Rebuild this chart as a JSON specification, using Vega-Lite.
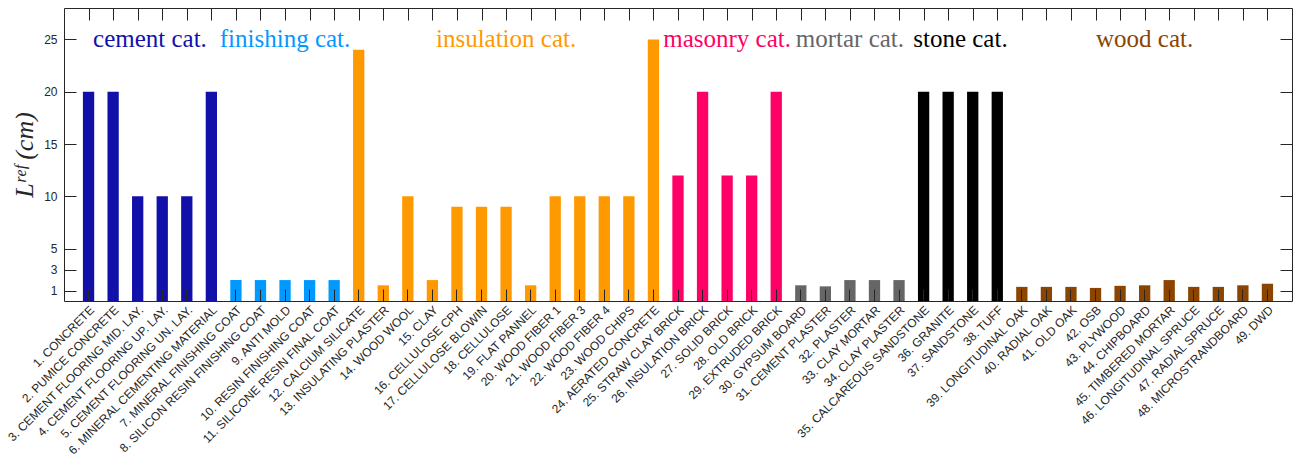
{
  "$schema": "https://vega.github.io/schema/vega-lite/v6.json",
  "width": 1228,
  "height": 293,
  "autosize": {"type": "none"},
  "padding": {"left": 64, "top": 8, "right": 4, "bottom": 161},
  "background": "white",
  "config": {
    "view": {"stroke": "#262626", "strokeWidth": 1},
    "axis": {
      "grid": false,
      "labelFont": "Liberation Sans",
      "labelFontSize": 12,
      "labelColor": "#262626",
      "domain": false
    }
  },
  "data": {
    "values": [
      {"id": 1, "material": "1. CONCRETE", "category": "cement", "L": 20},
      {"id": 2, "material": "2. PUMICE CONCRETE", "category": "cement", "L": 20},
      {"id": 3, "material": "3. CEMENT FLOORING MID. LAY.", "category": "cement", "L": 10},
      {"id": 4, "material": "4. CEMENT FLOORING UP. LAY.", "category": "cement", "L": 10},
      {"id": 5, "material": "5. CEMENT FLOORING UN. LAY.", "category": "cement", "L": 10},
      {"id": 6, "material": "6. MINERAL CEMENTING MATERIAL", "category": "cement", "L": 20},
      {"id": 7, "material": "7. MINERAL FINISHING COAT", "category": "finishing", "L": 2},
      {"id": 8, "material": "8. SILICON RESIN FINISHING COAT", "category": "finishing", "L": 2},
      {"id": 9, "material": "9. ANTI MOLD", "category": "finishing", "L": 2},
      {"id": 10, "material": "10. RESIN FINISHING COAT", "category": "finishing", "L": 2},
      {"id": 11, "material": "11. SILICONE RESIN FINAL COAT", "category": "finishing", "L": 2},
      {"id": 12, "material": "12. CALCIUM SILICATE", "category": "insulation", "L": 24},
      {"id": 13, "material": "13. INSULATING PLASTER", "category": "insulation", "L": 1.5},
      {"id": 14, "material": "14. WOOD WOOL", "category": "insulation", "L": 10},
      {"id": 15, "material": "15. CLAY", "category": "insulation", "L": 2},
      {"id": 16, "material": "16. CELLULOSE CPH", "category": "insulation", "L": 9},
      {"id": 17, "material": "17. CELLULOSE BLOWIN", "category": "insulation", "L": 9},
      {"id": 18, "material": "18. CELLULOSE", "category": "insulation", "L": 9},
      {"id": 19, "material": "19. FLAT PANNEL", "category": "insulation", "L": 1.5},
      {"id": 20, "material": "20. WOOD FIBER 1", "category": "insulation", "L": 10},
      {"id": 21, "material": "21. WOOD FIBER 3", "category": "insulation", "L": 10},
      {"id": 22, "material": "22. WOOD FIBER 4", "category": "insulation", "L": 10},
      {"id": 23, "material": "23. WOOD CHIPS", "category": "insulation", "L": 10},
      {"id": 24, "material": "24. AERATED CONCRETE", "category": "insulation", "L": 25},
      {"id": 25, "material": "25. STRAW CLAY BRICK", "category": "masonry", "L": 12},
      {"id": 26, "material": "26. INSULATION BRICK", "category": "masonry", "L": 20},
      {"id": 27, "material": "27. SOLID BRICK", "category": "masonry", "L": 12},
      {"id": 28, "material": "28. OLD BRICK", "category": "masonry", "L": 12},
      {"id": 29, "material": "29. EXTRUDED BRICK", "category": "masonry", "L": 20},
      {"id": 30, "material": "30. GYPSUM BOARD", "category": "mortar", "L": 1.5},
      {"id": 31, "material": "31. CEMENT PLASTER", "category": "mortar", "L": 1.4},
      {"id": 32, "material": "32. PLASTER", "category": "mortar", "L": 2},
      {"id": 33, "material": "33. CLAY MORTAR", "category": "mortar", "L": 2},
      {"id": 34, "material": "34. CLAY PLASTER", "category": "mortar", "L": 2},
      {"id": 35, "material": "35. CALCAREOUS SANDSTONE", "category": "stone", "L": 20},
      {"id": 36, "material": "36. GRANITE", "category": "stone", "L": 20},
      {"id": 37, "material": "37. SANDSTONE", "category": "stone", "L": 20},
      {"id": 38, "material": "38. TUFF", "category": "stone", "L": 20},
      {"id": 39, "material": "39. LONGITUDINAL OAK", "category": "wood", "L": 1.35},
      {"id": 40, "material": "40. RADIAL OAK", "category": "wood", "L": 1.35},
      {"id": 41, "material": "41. OLD OAK", "category": "wood", "L": 1.35},
      {"id": 42, "material": "42. OSB", "category": "wood", "L": 1.25},
      {"id": 43, "material": "43. PLYWOOD", "category": "wood", "L": 1.45},
      {"id": 44, "material": "44. CHIPBOARD", "category": "wood", "L": 1.5},
      {"id": 45, "material": "45. TIMBERED MORTAR", "category": "wood", "L": 2},
      {"id": 46, "material": "46. LONGITUDINAL SPRUCE", "category": "wood", "L": 1.35},
      {"id": 47, "material": "47. RADIAL SPRUCE", "category": "wood", "L": 1.35},
      {"id": 48, "material": "48. MICROSTRANDBOARD", "category": "wood", "L": 1.5},
      {"id": 49, "material": "49. DWD", "category": "wood", "L": 1.65}
    ]
  },
  "layer": [
    {
      "mark": {"type": "bar"},
      "encoding": {
        "x": {
          "field": "material",
          "type": "nominal",
          "sort": null,
          "scale": {"paddingInner": 0.54, "paddingOuter": 0.77},
          "axis": {
            "orient": "bottom",
            "title": null,
            "labelAngle": -45,
            "labelPadding": 3,
            "labelOverlap": false,
            "labelLimit": 400,
            "ticks": true,
            "tickSize": 12,
            "tickColor": "#262626",
            "tickWidth": 1,
            "tickOpacity": 1,
            "offset": -12,
            "zindex": 2
          }
        },
        "y": {
          "field": "L",
          "type": "quantitative",
          "scale": {"domain": [0, 28], "nice": false, "zero": true},
          "axis": {
            "orient": "left",
            "values": [1, 3, 5, 10, 15, 20, 25],
            "title": "Lʳᵉᶠ (cm)",
            "titleFont": "Liberation Serif",
            "titleFontSize": 26,
            "titleFontWeight": "normal",
            "titleFontStyle": "italic",
            "titleColor": "#262626",
            "titlePadding": 6,
            "labelPadding": 7,
            "ticks": true,
            "tickSize": 12,
            "tickColor": "#262626",
            "tickWidth": 1,
            "tickOpacity": 1,
            "offset": -12,
            "zindex": 2
          }
        },
        "color": {
          "field": "category",
          "type": "nominal",
          "scale": {
            "domain": ["cement", "finishing", "insulation", "masonry", "mortar", "stone", "wood"],
            "range": ["#1111AA", "#0099FF", "#FF9900", "#FF0066", "#666666", "#000000", "#8B4500"]
          },
          "legend": null
        }
      }
    },
    {
      "transform": [
        {"aggregate": [{"op": "mean", "field": "id", "as": "center"}], "groupby": ["category"]},
        {"calculate": "datum.category + ' cat.'", "as": "label"}
      ],
      "mark": {"type": "text", "font": "Liberation Serif", "fontSize": 25, "align": "center", "baseline": "middle"},
      "encoding": {
        "x": {
          "field": "center",
          "type": "quantitative",
          "scale": {"domain": [0, 50], "nice": false, "zero": false},
          "axis": {
            "orient": "top",
            "title": null,
            "labels": false,
            "values": [1,2,3,4,5,6,7,8,9,10,11,12,13,14,15,16,17,18,19,20,21,22,23,24,25,26,27,28,29,30,31,32,33,34,35,36,37,38,39,40,41,42,43,44,45,46,47,48,49],
            "ticks": true,
            "tickSize": 12,
            "tickColor": "#262626",
            "tickWidth": 1,
            "tickOpacity": 1,
            "offset": -12,
            "zindex": 2
          }
        },
        "y": {
          "datum": 25,
          "type": "quantitative",
          "scale": {"domain": [0, 28], "nice": false, "zero": true},
          "axis": {
            "orient": "right",
            "title": null,
            "labels": false,
            "values": [1, 3, 5, 10, 15, 20, 25],
            "ticks": true,
            "tickSize": 12,
            "tickColor": "#262626",
            "tickWidth": 1,
            "tickOpacity": 1,
            "offset": -12,
            "zindex": 2
          }
        },
        "text": {"field": "label"},
        "color": {"field": "category", "type": "nominal", "legend": null}
      }
    }
  ],
  "resolve": {"scale": {"x": "independent", "y": "independent"}, "axis": {"x": "independent", "y": "independent"}}
}
